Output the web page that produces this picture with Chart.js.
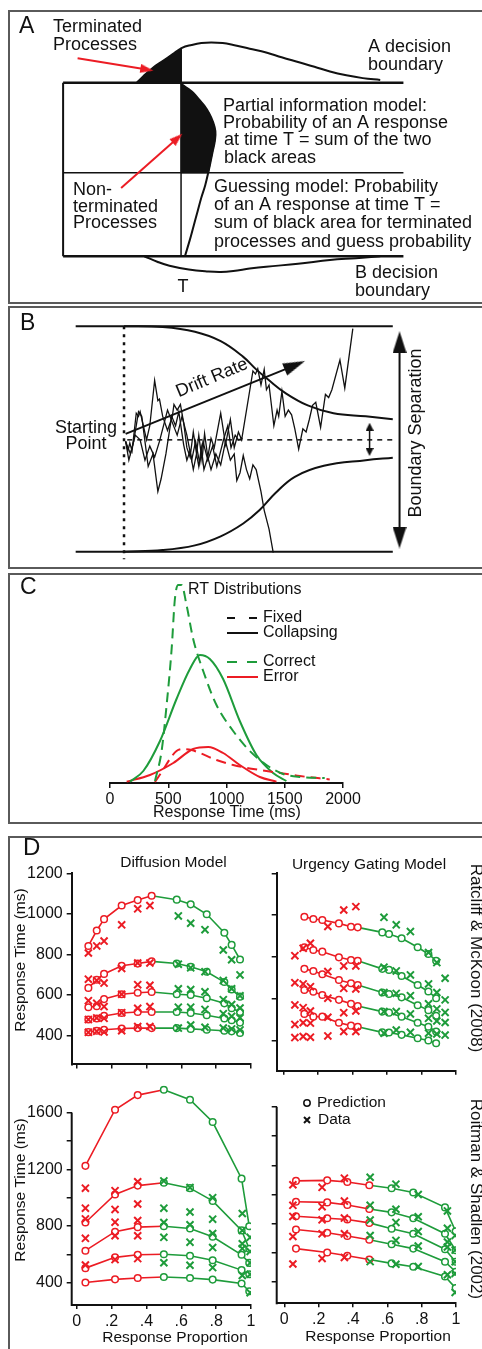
<!DOCTYPE html>
<html>
<head>
<meta charset="utf-8">
<script src="https://cdn.jsdelivr.net/npm/chart.js@4.4.1/dist/chart.umd.min.js"></script>
<style>
html, body { margin: 0; padding: 0; background: #fff; width: 482px; height: 1349px; overflow: hidden; }
.frame { position: absolute; border: 2px solid #5a5a5a; box-sizing: border-box; }
.box { position: absolute; }
</style>
</head>
<body>
<div class="frame" style="left:8px;top:10px;width:500px;height:294px"></div>
<div class="frame" style="left:8px;top:306px;width:500px;height:263px"></div>
<div class="frame" style="left:8px;top:573px;width:500px;height:251px"></div>
<div class="frame" style="left:8px;top:836px;width:500px;height:530px"></div>

<div class="box" style="left:0;top:0;width:482px;height:305px"><canvas id="panelA"></canvas></div>
<div class="box" style="left:0;top:305px;width:482px;height:265px"><canvas id="panelB"></canvas></div>
<div class="box" style="left:10px;top:576px;width:470px;height:246px"><canvas id="panelC"></canvas></div>
<div class="box" style="left:10px;top:836px;width:250px;height:242px"><canvas id="panelD1"></canvas></div>
<div class="box" style="left:262px;top:836px;width:220px;height:242px"><canvas id="panelD2"></canvas></div>
<div class="box" style="left:10px;top:1072px;width:250px;height:277px"><canvas id="panelD3"></canvas></div>
<div class="box" style="left:262px;top:1072px;width:220px;height:277px"><canvas id="panelD4"></canvas></div>

<script>
const RED = '#ec1c24';
const GREEN = '#1e9c3b';
const INK = '#111';
const FAM = '"Liberation Sans", Arial, Helvetica, sans-serif';

// ---- panel A (schematic, diagram units) ----
const aTopCurve = [[133,79],[140,72],[150,63],[160,56],[170,49],[180,42],[190,39],[200,37],[210,36.5],[222,37],[233,39],[250,43],[267,47],[283,52],[300,57],[317,62],[333,67],[350,71],[367,74],[385,76]];
const aTerminated = [[133,79],[140,72],[150,63],[160,56],[170,49],[179,43],[179,79]];
const aNonTermCurve = [[179,80],[186,85],[192,90],[198,97],[203,103],[208,111],[212,120],[214.5,130],[214,140],[212,150],[210,160],[207.5,172],[204,187],[200,200],[196,215],[192,230],[188,245],[183,262]];
const aNonTermFill = [[179,80],[186,85],[192,90],[198,97],[203,103],[208,111],[212,120],[214.5,130],[214,140],[212,150],[210,160],[207.3,174],[179,174],[179,80]];
const aBottomCurve = [[141,262],[155,268],[167,272],[187,276],[207,278],[220,278.5],[233,277.5],[250,275],[267,273],[300,270],[333,266],[360,264],[385,262]];
const aBoxTop = [[57,79],[409,79]];
const aBoxMid = [[57,174],[409,174]];
const aBoxBottom = [[57,262],[409,262]];
const aBoxLeft = [[57,79],[57,262]];
const aTimeT = [[179,42],[179,262]];
const aArrow1 = [[72,53],[143.6,64.9]];
const aArrow2 = [[117,190],[175.2,137.4]];

// ---- panel B (schematic, diagram units) ----
const bUpper = [[30,12],[150,15],[250,30],[330,60],[400,110],[440,150],[480,185],[530,225],[600,265],[680,290],[780,300],[864,309]];
const bLower = [[30,732],[150,727],[250,712],[330,683],[400,642],[450,600],[500,545],[560,493],[650,458],[780,440],[864,432]];
const bTopLine = [[-120,12],[864,12]];
const bBottomLine = [[-120,732],[864,732]];
const bStartLine = [[30,12],[30,756]];
const bMidLine = [[40,375],[864,375]];
const bWalkUp = [[35,380],[42,410],[48,385],[55,410],[68,290],[75,300],[80,285],[100,375],[110,330],[125,185],[135,250],[140,245],[150,300],[165,345],[180,300],[185,262],[195,280],[205,262],[215,320],[225,400],[235,430],[245,350],[255,420],[262,360],[272,440],[280,355],[290,430],[300,370],[310,400],[330,290],[345,390],[360,310],[372,400],[385,350],[395,375],[430,155],[438,165],[445,148],[455,200],[465,150],[472,215],[480,200],[495,330],[505,280],[510,300],[520,220],[530,300],[540,280],[550,295],[560,340],[572,405],[585,340],[595,350],[605,310],[615,265],[625,255],[640,335],[655,230],[665,240],[675,215],[700,120],[715,210],[740,20]];
const bWalkDown = [[35,380],[45,440],[60,380],[75,285],[85,300],[105,460],[120,420],[135,540],[145,500],[160,420],[178,300],[190,330],[200,285],[215,390],[225,440],[235,410],[245,470],[255,420],[262,460],[270,400],[278,470],[290,430],[300,470],[315,420],[330,455],[345,380],[360,440],[372,420],[380,505],[390,480],[400,425],[410,470],[420,500],[430,455],[440,470],[455,540],[465,600],[475,640],[480,660],[493,735]];
const bWalkMid = [[35,380],[50,420],[65,360],[80,375],[95,440],[110,395],[125,430],[140,380],[165,280],[180,320],[195,360],[210,300],[225,360],[240,440],[252,380],[265,450],[275,380],[290,440],[305,395],[318,460],[330,410],[340,370],[352,330],[362,400],[375,360],[385,375],[398,370]];
const bDrift = [[35,356],[560,137]];
const bSeparation = [[885,63],[885,687]];
const bStartGap = [[792,333],[792,414]];

// ---- panel C: RT distributions ----
const cTicks = [0, 500, 1000, 1500, 2000];
const cFixedCorrectT = [386,443,486,529,557,586,614,657,714,800,914,1057,1200,1343,1486,1629,1843];
const cFixedCorrectD = [0.01,0.16,0.39,0.67,0.92,0.99,0.99,0.89,0.72,0.56,0.39,0.26,0.16,0.09,0.045,0.03,0.025];
const cFixedErrorT = [386,460,514,571,629,700,771,914,1057,1200,1343,1486,1629,1886];
const cFixedErrorD = [0.005,0.07,0.12,0.16,0.17,0.165,0.15,0.115,0.09,0.073,0.06,0.048,0.035,0.018];
const cCollCorrectT = [171,286,429,571,686,771,857,971,1114,1257,1400,1514];
const cCollCorrectD = [0.007,0.06,0.21,0.42,0.57,0.64,0.62,0.52,0.31,0.14,0.05,0.01];
const cCollErrorT = [143,343,543,714,843,971,1114,1286,1429];
const cCollErrorD = [0.007,0.04,0.10,0.17,0.18,0.15,0.09,0.03,0.007];

// ---- panel D: Ratcliff & McKoon (2008) ----
const dXTicks = [0, 0.2, 0.4, 0.6, 0.8, 1];
const dXLabels = ['0', '.2', '.4', '.6', '.8', '1'];
const rmTicks = [400, 600, 800, 1000, 1200];
const rmDataP = [0.067,0.115,0.157,0.258,0.35,0.42,0.583,0.654,0.736,0.841,0.889,0.937];
const rmData = [
  [807,842,866,946,1025,1041,990,954,922,822,774,699],
  [678,672,659,731,758,758,752,734,715,672,631,596],
  [572,559,543,604,651,648,631,627,616,577,553,536],
  [479,487,485,513,535,543,540,540,529,508,495,488],
  [416,421,418,424,445,445,437,452,441,437,433,428]
];
const rmDiffP = [0.067,0.115,0.157,0.258,0.35,0.43,0.574,0.654,0.746,0.847,0.889,0.937];
const rmDiff = [
  [842,918,974,1041,1068,1089,1070,1047,998,907,847,775],
  [635,675,704,744,755,766,755,739,715,664,627,592],
  [540,545,580,604,611,615,604,600,584,559,535,516],
  [479,484,497,511,516,516,516,511,500,484,476,464],
  [417,424,429,435,437,437,437,433,429,424,421,413]
];
const rmUrgP = [0.122,0.174,0.226,0.322,0.392,0.431,0.573,0.612,0.685,0.778,0.84,0.885];
const rmUrg = [
  [993,982,977,961,945,942,918,910,890,847,815,783],
  [847,834,826,799,786,783,744,739,710,667,636,604],
  [744,734,718,691,675,667,631,624,608,570,547,520],
  [643,635,619,596,577,567,540,535,516,487,468,445],
  [529,516,516,487,473,468,441,440,429,413,402,389]
];

// ---- panel D: Roitman & Shadlen (2002) ----
const rsTicks = [400, 600, 800, 1000, 1200, 1400, 1600];
const rsLabelled = [400, 800, 1200, 1600];
const rsDataP = [0.05,0.22,0.35,0.5,0.65,0.78,0.95,0.995];
const rsData = [
  [1067,1049,1112,1118,1071,1000,888,720],
  [926,917,955,926,899,848,769,620],
  [850,827,839,825,809,747,675,540],
  [713,731,731,720,686,648,641,460],
  [525,563,570,541,523,507,451,330]
];
const rsDiffP = [0.05,0.22,0.35,0.5,0.65,0.78,0.946,0.99];
const rsDiff = [
  [1224,1620,1723,1761,1690,1533,1134,798],
  [825,1022,1085,1105,1067,977,769,640],
  [626,760,792,798,782,724,597,540],
  [503,579,597,601,590,559,489,460],
  [402,424,433,440,433,422,395,340]
];
const rsUrgP = [0.068,0.25,0.367,0.495,0.625,0.751,0.936,0.998];
const rsUrg = [
  [1093,1097,1086,1063,1043,1014,912,748],
  [951,946,928,901,878,838,732,619],
  [851,838,829,806,766,732,626,540],
  [761,739,716,691,660,630,540,472],
  [630,603,581,556,529,506,439,360]
];

Chart.defaults.font.family = FAM;
Chart.defaults.color = INK;
Chart.defaults.animation = false;
Chart.defaults.events = [];
Chart.defaults.plugins.legend.display = false;
Chart.defaults.plugins.tooltip.enabled = false;

function notes(items) {
  return {
    id: 'notes',
    afterDraw(chart) {
      const ctx = chart.ctx;
      items.forEach(it => {
        ctx.save();
        ctx.strokeStyle = it.color || INK;
        ctx.fillStyle = it.color || INK;
        if (it.line) {
          ctx.lineWidth = it.w || 2;
          ctx.setLineDash(it.dash || []);
          ctx.beginPath(); ctx.moveTo(it.x, it.y); ctx.lineTo(it.x2, it.y); ctx.stroke();
        } else if (it.circle) {
          ctx.lineWidth = 1.5;
          ctx.beginPath(); ctx.arc(it.x, it.y, it.r, 0, Math.PI * 2); ctx.stroke();
        } else if (it.cross) {
          const r = it.r;
          ctx.lineWidth = 2;
          ctx.beginPath();
          ctx.moveTo(it.x - r, it.y - r); ctx.lineTo(it.x + r, it.y + r);
          ctx.moveTo(it.x + r, it.y - r); ctx.lineTo(it.x - r, it.y + r);
          ctx.stroke();
        } else {
          ctx.font = (it.size || 16) + 'px ' + FAM;
          ctx.textAlign = it.align || 'left';
          ctx.textBaseline = 'middle';
          ctx.translate(it.x, it.y);
          if (it.rot) ctx.rotate(it.rot * Math.PI / 180);
          ctx.fillText(it.t, 0, 0);
        }
        ctx.restore();
      });
    }
  };
}

function head(len, wid, color) {
  const c = document.createElement('canvas');
  c.width = wid; c.height = len;
  const g = c.getContext('2d');
  g.fillStyle = color;
  g.beginPath(); g.moveTo(wid / 2, 0); g.lineTo(wid, len); g.lineTo(0, len); g.closePath(); g.fill();
  return c;
}

const L = (pts, extra) => Object.assign({
  data: pts.map(([x, y]) => ({ x, y })),
  borderColor: INK, borderWidth: 2, pointRadius: 0, fill: false, tension: 0, order: 1
}, extra || {});

function sketchOptions(xmin, xmax, ymin, ymax) {
  return {
    responsive: true, maintainAspectRatio: false,
    layout: { padding: 0 },
    scales: {
      x: { type: 'linear', display: false, min: xmin, max: xmax },
      y: { type: 'linear', display: false, min: ymin, max: ymax, reverse: true }
    }
  };
}

// ---------- A ----------
const redHead = head(13, 9, RED);
new Chart(document.getElementById('panelA'), {
  type: 'line',
  data: { datasets: [
    L(aArrow1, { borderColor: RED, borderWidth: 2, order: 0, pointRadius: [0, 6], pointStyle: ['circle', redHead], pointRotation: [0, 99.4] }),
    L(aArrow2, { borderColor: RED, borderWidth: 2, order: 0, pointRadius: [0, 6], pointStyle: ['circle', redHead], pointRotation: [0, 47.8] }),
    L(aTerminated, { fill: 'shape', backgroundColor: INK, borderWidth: 1, order: 2 }),
    L(aNonTermFill, { fill: 'shape', backgroundColor: INK, borderWidth: 1, order: 2 }),
    L(aTopCurve, { tension: 0.4 }),
    L(aNonTermCurve, { tension: 0.4 }),
    L(aBottomCurve, { tension: 0.4 }),
    L(aBoxTop, { borderWidth: 2.5 }),
    L(aBoxMid, { borderWidth: 1.5 }),
    L(aBoxBottom, { borderWidth: 2.5 }),
    L(aBoxLeft, { borderWidth: 2 }),
    L(aTimeT, { borderWidth: 1.5 })
  ] },
  options: sketchOptions(0, 482, 0, 305),
  plugins: [notes([
    { t: 'A', x: 19, y: 27, size: 23 },
    { t: 'Terminated', x: 53, y: 27, size: 18 },
    { t: 'Processes', x: 53, y: 45, size: 18 },
    { t: 'A decision', x: 368, y: 47, size: 18 },
    { t: 'boundary', x: 368, y: 65, size: 18 },
    { t: 'Partial information model:', x: 223, y: 106, size: 18 },
    { t: 'Probability of an A response', x: 223, y: 123, size: 18 },
    { t: 'at time T = sum of the two', x: 224, y: 140, size: 18 },
    { t: 'black areas', x: 224, y: 158, size: 18 },
    { t: 'Guessing model: Probability', x: 214, y: 187, size: 18 },
    { t: 'of an A response at time T =', x: 214, y: 205, size: 18 },
    { t: 'sum of black area for terminated', x: 214, y: 223, size: 18 },
    { t: 'processes and guess probability', x: 214, y: 242, size: 18 },
    { t: 'Non-', x: 73, y: 190, size: 18 },
    { t: 'terminated', x: 73, y: 207, size: 18 },
    { t: 'Processes', x: 73, y: 223, size: 18 },
    { t: 'T', x: 183, y: 287, size: 18, align: 'center' },
    { t: 'B decision', x: 355, y: 273, size: 18 },
    { t: 'boundary', x: 355, y: 291, size: 18 }
  ])]
});

// ---------- B ----------
const bigHead = head(22, 14, INK);
const smallHead = head(8, 8, INK);
new Chart(document.getElementById('panelB'), {
  type: 'line',
  data: { datasets: [
    L(bDrift, { order: 0, pointRadius: [0, 6], pointStyle: ['circle', head(22, 13, INK)], pointRotation: [0, 67.3] }),
    L(bSeparation, { pointRadius: [6, 6], pointStyle: [bigHead, bigHead], pointRotation: [0, 180] }),
    L(bStartGap, { borderWidth: 1.5, pointRadius: [4, 4], pointStyle: [smallHead, smallHead], pointRotation: [0, 180] }),
    L(bWalkUp, { borderWidth: 1.3 }),
    L(bWalkDown, { borderWidth: 1.3 }),
    L(bWalkMid, { borderWidth: 1.3 }),
    L(bUpper, { tension: 0.4 }),
    L(bLower, { tension: 0.4 }),
    L(bTopLine),
    L(bBottomLine),
    L(bStartLine, { borderWidth: 2.5, borderDash: [3, 5] }),
    L(bMidLine, { borderWidth: 1.5, borderDash: [5, 5] })
  ] },
  options: sketchOptions(-330, 1116, -30, 765),
  plugins: [notes([
    { t: 'B', x: 20, y: 19, size: 23 },
    { t: 'Starting', x: 86, y: 123, size: 18, align: 'center' },
    { t: 'Point', x: 86, y: 139, size: 18, align: 'center' },
    { t: 'Drift Rate', x: 212, y: 73, size: 18, align: 'center', rot: -22.7 },
    { t: 'Boundary Separation', x: 416, y: 128, size: 18, align: 'center', rot: -90 }
  ])]
});

// ---------- C ----------
const series = (t, d) => t.map((v, i) => ({ x: v, y: d[i] }));
new Chart(document.getElementById('panelC'), {
  type: 'line',
  data: { datasets: [
    { data: series(cFixedCorrectT, cFixedCorrectD), borderColor: GREEN, borderDash: [10, 6] },
    { data: series(cFixedErrorT, cFixedErrorD), borderColor: RED, borderDash: [10, 6] },
    { data: series(cCollCorrectT, cCollCorrectD), borderColor: GREEN },
    { data: series(cCollErrorT, cCollErrorD), borderColor: RED }
  ] },
  options: {
    responsive: true, maintainAspectRatio: false,
    layout: { padding: { left: 100, right: 137, top: 7, bottom: 0 } },
    elements: { point: { radius: 0 }, line: { borderWidth: 2, tension: 0.4, cubicInterpolationMode: 'monotone' } },
    scales: {
      x: {
        type: 'linear', min: 0, max: 2000,
        afterBuildTicks: s => { s.ticks = cTicks.map(v => ({ value: v })); },
        afterFit: s => { s.height = 39; },
        border: { display: true, color: INK, width: 2 },
        grid: { drawOnChartArea: false, drawTicks: true, tickLength: 5, color: INK, lineWidth: 1.5 },
        ticks: { font: { size: 16 }, padding: 2, color: INK, autoSkip: false, maxRotation: 0,
                 callback: v => String(v) }
      },
      y: { display: false, min: 0, max: 1 }
    }
  },
  plugins: [notes([
    { t: 'C', x: 10, y: 12, size: 23 },
    { t: 'RT Distributions', x: 178, y: 14, size: 16 },
    { line: true, x: 217, x2: 248, y: 42, dash: [8, 14] },
    { t: 'Fixed', x: 253, y: 42, size: 16 },
    { line: true, x: 217, x2: 248, y: 57 },
    { t: 'Collapsing', x: 253, y: 57, size: 16 },
    { line: true, x: 217, x2: 248, y: 86, dash: [10, 10], color: GREEN },
    { t: 'Correct', x: 253, y: 86, size: 16 },
    { line: true, x: 217, x2: 248, y: 101, color: RED },
    { t: 'Error', x: 253, y: 101, size: 16 },
    { t: 'Response Time (ms)', x: 217, y: 237, size: 16, align: 'center' }
  ])]
});

// ---------- D ----------
const pointColor = c => (c.raw && c.raw.x >= 0.5) ? GREEN : RED;

function yAxisLine(top) {
  return {
    id: 'yAxisLine',
    beforeDatasetsDraw(chart) {
      const ctx = chart.ctx, a = chart.chartArea;
      ctx.save();
      ctx.strokeStyle = INK; ctx.lineWidth = 2;
      ctx.beginPath();
      ctx.moveTo(a.left, chart.scales.y.getPixelForValue(top));
      ctx.lineTo(a.left, a.bottom + 1);
      ctx.stroke();
      ctx.restore();
    }
  };
}

function panelD(id, o) {
  const datasets = [];
  o.dataRows.forEach(r => datasets.push({
    data: o.dataP.map((p, i) => ({ x: p, y: r[i] })),
    showLine: false, pointStyle: 'crossRot', pointRadius: 5, pointBorderWidth: 2,
    pointBorderColor: pointColor, pointBackgroundColor: pointColor
  }));
  o.predRows.forEach(r => datasets.push({
    data: o.predP.map((p, i) => ({ x: p, y: r[i] })),
    showLine: true, borderWidth: 1.6, borderColor: RED,
    segment: { borderColor: c => c.p1.parsed.x > 0.5 ? GREEN : RED },
    pointStyle: 'circle', pointRadius: 3.3, pointBorderWidth: 1.5,
    pointBorderColor: pointColor, pointBackgroundColor: '#fff'
  }));
  const plugins = [notes(o.notes)];
  if (o.axisTop) plugins.push(yAxisLine(o.axisTop));
  new Chart(document.getElementById(id), {
    type: 'line',
    data: { datasets },
    options: {
      responsive: true, maintainAspectRatio: false,
      layout: { padding: { left: 0, right: o.padR, top: o.padT, bottom: 0 } },
      elements: { line: { tension: 0 } },
      scales: {
        x: {
          type: 'linear', min: o.xMin, max: 1,
          afterBuildTicks: s => { s.ticks = dXTicks.map(v => ({ value: v })); },
          afterFit: s => { s.height = o.xHeight; },
          border: { display: true, color: INK, width: 2 },
          grid: { drawOnChartArea: false, tickLength: 4, color: INK, lineWidth: 1.5 },
          ticks: { display: o.xLabels, padding: 3, font: { size: 16 }, color: INK, autoSkip: false, maxRotation: 0,
                   callback: v => dXLabels[dXTicks.indexOf(v)] }
        },
        y: {
          type: 'linear', min: o.yMin, max: o.yMax,
          afterBuildTicks: s => { s.ticks = o.yTicks.map(v => ({ value: v })); },
          afterFit: s => { s.width = o.yWidth; },
          border: { display: !o.axisTop, color: INK, width: 2 },
          grid: { drawOnChartArea: false, tickLength: 5, color: INK, lineWidth: 1.5 },
          ticks: { display: o.yLabels, padding: 4, font: { size: 16 }, color: INK, autoSkip: false,
                   callback: v => (o.yShown.indexOf(v) >= 0 ? String(v) : '') }
        }
      }
    },
    plugins
  });
}

panelD('panelD1', {
  dataP: rmDataP, dataRows: rmData, predP: rmDiffP, predRows: rmDiff,
  xMin: -0.0287, yMin: 258, yMax: 1200, yTicks: rmTicks, yShown: rmTicks,
  padR: 9, padT: 37.3, yWidth: 61.7, xHeight: 7.3, xLabels: false, yLabels: true,
  notes: [
    { t: 'D', x: 13, y: 12.5, size: 24 },
    { t: 'Diffusion Model', x: 163.5, y: 27, size: 15.5, align: 'center' },
    { t: 'Response Time (ms)', x: 11, y: 124, size: 15.5, align: 'center', rot: -90 }
  ]
});
panelD('panelD2', {
  dataP: rmDataP, dataRows: rmData, predP: rmUrgP, predRows: rmUrg,
  xMin: -0.0382, yMin: 258, yMax: 1200, yTicks: rmTicks, yShown: [],
  padR: 26, padT: 37.3, yWidth: 14.7, xHeight: 7.3, xLabels: false, yLabels: false,
  notes: [
    { t: 'Urgency Gating Model', x: 107, y: 29, size: 15.5, align: 'center' },
    { t: 'Ratcliff & McKoon (2008)', x: 214, y: 122, size: 17, align: 'center', rot: 90 }
  ]
});
panelD('panelD3', {
  dataP: rsDataP, dataRows: rsData, predP: rsDiffP, predRows: rsDiff,
  xMin: -0.0287, yMin: 243, yMax: 1790, yTicks: rsTicks, yShown: rsLabelled, axisTop: 1600,
  padR: 9, padT: 2.7, yWidth: 61.7, xHeight: 44, xLabels: true, yLabels: true,
  notes: [
    { t: 'Response Time (ms)', x: 11, y: 118, size: 15.5, align: 'center', rot: -90 },
    { t: 'Response Proportion', x: 165, y: 266, size: 15.5, align: 'center' }
  ]
});
panelD('panelD4', {
  dataP: rsDataP, dataRows: rsData, predP: rsUrgP, predRows: rsUrg,
  xMin: -0.0443, yMin: 256, yMax: 1790, yTicks: rsTicks, yShown: [], axisTop: 1600,
  padR: 26, padT: 3, yWidth: 14.7, xHeight: 45.7, xLabels: true, yLabels: false,
  notes: [
    { circle: true, x: 45, y: 31, r: 3.2 },
    { t: 'Prediction', x: 55, y: 31, size: 15.5 },
    { cross: true, x: 45, y: 48, r: 3 },
    { t: 'Data', x: 56, y: 48, size: 15.5 },
    { t: 'Response Proportion', x: 116, y: 265, size: 15.5, align: 'center' },
    { t: 'Roitman & Shadlen (2002)', x: 214, y: 127, size: 17, align: 'center', rot: 90 }
  ]
});
</script>
</body>
</html>
